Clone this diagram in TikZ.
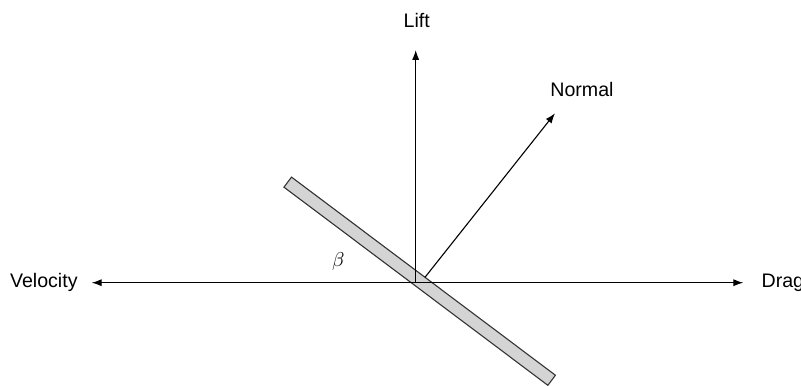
\documentclass[tikz,border=0pt]{standalone}
\usepackage{amsmath,amssymb}
\usepackage{xcolor}
\usepackage{fontspec}
\setmainfont{Liberation Sans}
\usetikzlibrary{arrows.meta, positioning, calc}

\begin{document}
\begin{tikzpicture}[x=0.5pt, y=0.5pt, font=\fontsize{9.8}{11}\selectfont,
  force/.style={-{Latex[length=5pt,width=3.6pt]}, line width=0.55pt, black},
  label/.style={inner sep=1pt}]
  \useasboundingbox (-415.7,-102.3) rectangle (385.3,282.7);

  % Plate
  \node[draw=black!80, line width=0.55pt, fill=black!17, rectangle, inner sep=0pt,
        minimum width=165pt, minimum height=6.3pt, rotate=-36.9] (plate) at (4,1.5) {};

  % Points
  \coordinate (O) at (0,0);
  \coordinate (liftTip) at (0,232.7);
  \coordinate (dragTip) at (327.6,0);
  \coordinate (velTip) at (-324,0);
  \coordinate (normBase) at (9.3,5.4);
  \coordinate (normTip) at (139.3,169.4);

  % Forces
  \draw[force] (O) -- (liftTip);
  \draw[force] (O) -- (dragTip);
  \draw[force] (O) -- (velTip);
  \draw[force] (normBase) -- (normTip);

  % Labels
  \node[label] (lift) at (1,262) {Lift};
  \node[label, anchor=west] (drag) at (343.5,0) {Drag};
  \node[label, anchor=east] (velocity) at (-335.7,0) {Velocity};
  \node[label] (normal) at (166.3,193.7) {Normal};
  \node[label] (beta) at (-77.4,21) {$\beta$};
\end{tikzpicture}
\end{document}
